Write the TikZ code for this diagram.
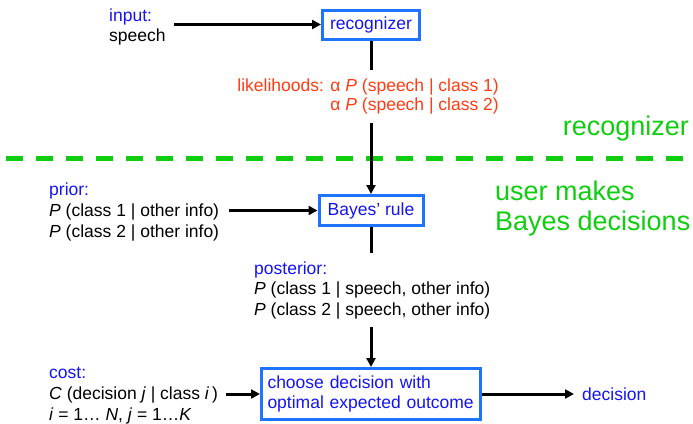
\documentclass[tikz,border=0pt]{standalone}
\usepackage{fontspec}
\setmainfont{Liberation Sans}
\usetikzlibrary{arrows.meta}
\definecolor{label blue}{RGB}{20,20,240}
\definecolor{block edge}{RGB}{30,115,255}
\definecolor{likelihood red}{RGB}{255,60,20}
\definecolor{bayes green}{RGB}{15,205,15}
\def\bodysize{\fontsize{17.5}{20.7}\selectfont}
\def\likesize{\fontsize{17.5}{18.5}\selectfont}
\def\bigsize{\fontsize{27}{30}\selectfont}
\tikzset{block/.style={draw=block edge, line width=3pt, text=label blue, font=\bodysize},
	plain/.style={inner sep=0pt, align=left, font=\bodysize},
	flow/.style={line width=3pt, -{Triangle[length=9pt,width=9pt]}},
	divider/.style={draw=bayes green, line width=5pt, dash pattern=on 17pt off 13pt}}

\begin{document}
\begin{tikzpicture}[x=1pt,y=-1pt]
		\useasboundingbox (0,0) rectangle (693,423);
		\draw[divider] (6,158) -- (693,158);
		\node[block, minimum width=97pt, minimum height=29pt] (rec) at (371,24.5) {recognizer};
		\node[block, minimum width=104pt, minimum height=30pt] (bayes) at (371,210.5) {Bayes' rule};
		\node[block, align=left, text width=207pt, inner xsep=6pt, minimum height=51pt] (choose) at (371,394)
			{choose decision with\\optimal expected outcome};
		\draw[flow] (rec) -- (bayes);
		\draw[flow] (bayes) -- (choose);
		
		\node[plain, anchor=base west] (input) at (109,41.7) {\textcolor{label blue}{input:}\\speech};
		\node[plain, anchor=base east, align=right, text=likelihood red, fill=white, inner ysep=9pt, font=\likesize] (like) at (499,110)
			{likelihoods: α \textit{P} (speech | class 1)\\α \textit{P} (speech | class 2)};
		\node[plain, anchor=base west] (prior) at (49,237)
			{\textcolor{label blue}{prior:}\\\textit{P} (class 1 | other info)\\\textit{P} (class 2 | other info)};
		\node[plain, anchor=base west, fill=white, inner ysep=8pt] (post) at (254,315.5)
			{\textcolor{label blue}{posterior:}\\\textit{P} (class 1 | speech, other info)\\\textit{P} (class 2 | speech, other info)};
		\node[plain, anchor=base west] (cost) at (49,420)
			{\textcolor{label blue}{cost:}\\\textit{C} (decision \textit{j} | class \textit{i}\,)\\\textit{i} = 1… \textit{N}, \textit{j} = 1…\textit{K}};
		\node[plain, anchor=base west, text=label blue] (out) at (582,400.7) {decision};
		\node[plain, anchor=base west, text=bayes green, font=\bigsize] (side) at (562.7,135) {recognizer};
		\node[plain, anchor=base west, text=bayes green, font=\bigsize] (user) at (495,230) {user makes\\Bayes decisions};
		
		\draw[flow, shorten <=8pt] (input.east |- rec.west) -- (rec.west);
		\draw[flow, shorten <=10pt] (prior.east |- bayes.west) -- (bayes.west);
		\draw[flow, shorten <=8pt] (cost.east |- choose.west) -- (choose.west);
		\draw[flow, shorten >=8pt] (choose.east) -- (choose.east -| out.west);
		\end{tikzpicture}
\end{document}
